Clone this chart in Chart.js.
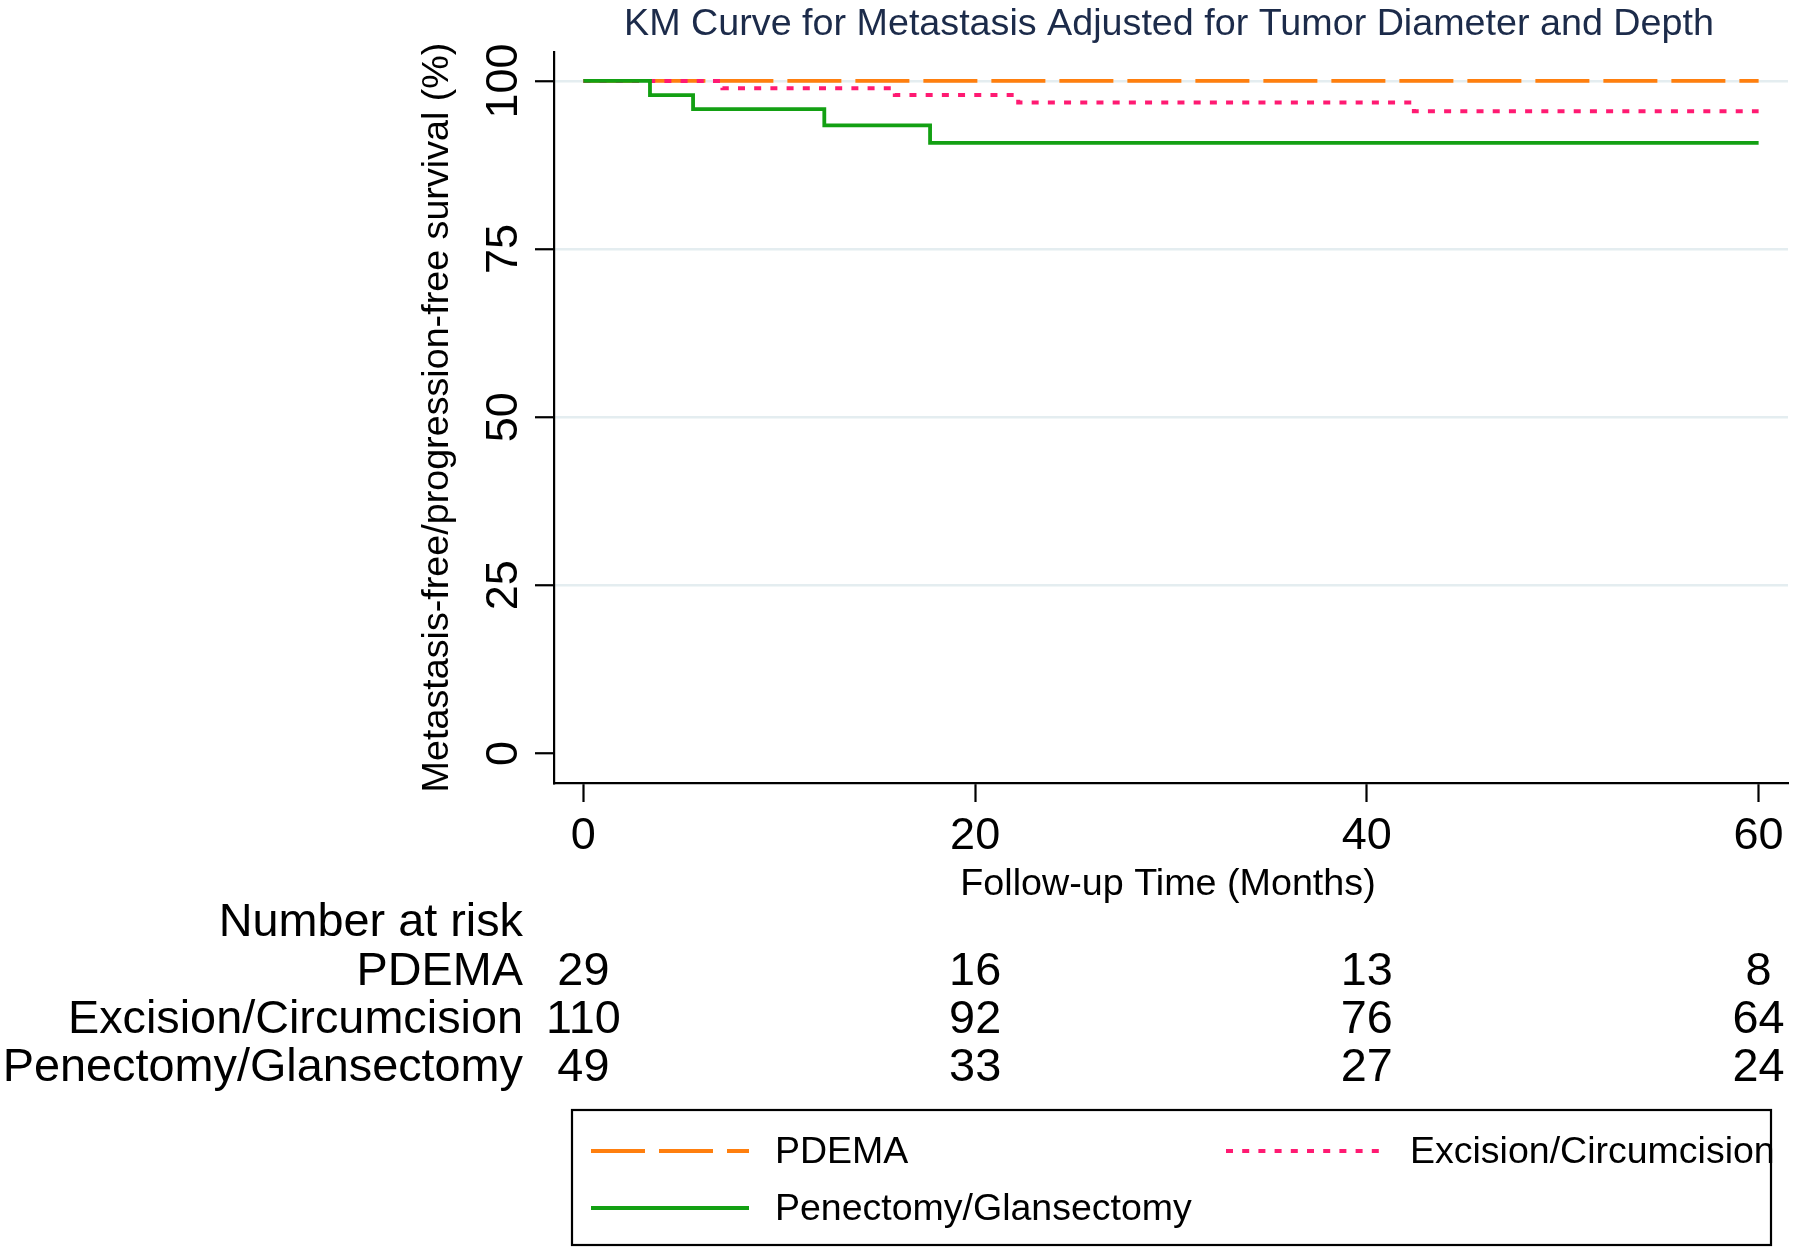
<!DOCTYPE html>
<html>
<head>
<meta charset="utf-8">
<script src="https://cdn.jsdelivr.net/npm/chart.js@4.4.1/dist/chart.umd.min.js"></script>
<style>
html,body{margin:0;padding:0;background:#fff;}
canvas{display:block;}
</style>
</head>
<body>
<canvas id="c" width="1800" height="1255"></canvas>
<script>
// ---- data ----
const seriesNames = ['PDEMA', 'Excision/Circumcision', 'Penectomy/Glansectomy'];
const pdemaTime = [0, 60];
const pdemaSurv = [100, 100];
const excTime = [0, 7.1, 15.9, 22.2, 42.4, 60];
const excSurv = [100, 98.9, 97.9, 96.8, 95.5, 95.5];
const penTime = [0, 3.4, 5.6, 12.3, 17.7, 60];
const penSurv = [100, 97.9, 95.8, 93.4, 90.8, 90.8];

const xTickValues = [0, 20, 40, 60];
const xTickLabels = ['0', '20', '40', '60'];
const yTickValues = [0, 25, 50, 75, 100];
const yTickLabels = ['0', '25', '50', '75', '100'];

const riskTimes = [0, 20, 40, 60];
const riskPDEMA = [29, 16, 13, 8];
const riskExc = [110, 92, 76, 64];
const riskPen = [49, 33, 27, 24];

const titleText = 'KM Curve for Metastasis Adjusted for Tumor Diameter and Depth';
const xTitle = 'Follow-up Time (Months)';
const yTitle = 'Metastasis-free/progression-free survival (%)';
const riskHeader = 'Number at risk';

// ---- styles ----
const COL_ORANGE = '#ff7f0e';
const COL_PINK = '#ff1a72';
const COL_GREEN = '#13a013';
const DASH_ORANGE = [54, 14];
const DASH_PINK = [7, 9.2];
const FONT = '"Liberation Sans", Arial, Helvetica, sans-serif';

function pts(t, s) { return t.map((v, i) => ({x: v, y: s[i]})); }

const overlay = {
  id: 'overlay',
  afterDraw(chart) {
    const ctx = chart.ctx;
    const xs = chart.scales.x, ys = chart.scales.y;
    const ca = chart.chartArea;
    ctx.save();
    // title
    ctx.fillStyle = '#1c2b4a';
    ctx.font = '37.7px ' + FONT;
    ctx.textAlign = 'center';
    ctx.textBaseline = 'alphabetic';
    ctx.fillText(titleText, (ca.left + ca.right) / 2 - 2, 35);

    ctx.fillStyle = '#000';
    // y tick labels (rotated)
    ctx.font = '45px ' + FONT;
    yTickValues.forEach((v, i) => {
      const y = ys.getPixelForValue(v);
      ctx.save();
      ctx.translate(517, y);
      ctx.rotate(-Math.PI / 2);
      ctx.textAlign = 'center';
      ctx.fillText(yTickLabels[i], 0, 0);
      ctx.restore();
    });
    // x tick labels
    ctx.textAlign = 'center';
    xTickValues.forEach((v, i) => {
      ctx.fillText(xTickLabels[i], xs.getPixelForValue(v), 849);
    });
    // axis titles
    ctx.font = '37.7px ' + FONT;
    ctx.fillText(xTitle, (ca.left + ca.right) / 2 - 3, 895);
    ctx.save();
    ctx.translate(448, (ca.top + ca.bottom) / 2);
    ctx.rotate(-Math.PI / 2);
    ctx.textAlign = 'center';
    ctx.fillText(yTitle, 0, 0);
    ctx.restore();

    // number at risk table
    ctx.font = '46.8px ' + FONT;
    ctx.textAlign = 'right';
    const rows = [[seriesNames[0], riskPDEMA], [seriesNames[1], riskExc], [seriesNames[2], riskPen]];
    ctx.fillText(riskHeader, 523, 936);
    rows.forEach((r, k) => {
      const by = 985 + k * 48;
      ctx.textAlign = 'right';
      ctx.fillText(r[0], 523, by);
      ctx.textAlign = 'center';
      r[1].forEach((n, i) => ctx.fillText(String(n), xs.getPixelForValue(riskTimes[i]), by));
    });

    // legend box
    ctx.lineWidth = 2.2;
    ctx.strokeStyle = '#000';
    ctx.strokeRect(572, 1110, 1199, 135);
    const items = [
      {x: 591, y: 1151, tx: 775, col: COL_ORANGE, dash: DASH_ORANGE, w: 3.8, name: seriesNames[0]},
      {x: 1226, y: 1151, tx: 1410, col: COL_PINK, dash: DASH_PINK, w: 4, name: seriesNames[1]},
      {x: 591, y: 1208, tx: 775, col: COL_GREEN, dash: [], w: 3.8, name: seriesNames[2]}
    ];
    ctx.font = '37.5px ' + FONT;
    ctx.textAlign = 'left';
    ctx.textBaseline = 'middle';
    items.forEach(it => {
      ctx.save();
      ctx.strokeStyle = it.col;
      ctx.lineWidth = it.w;
      ctx.setLineDash(it.dash);
      ctx.beginPath();
      ctx.moveTo(it.x, it.y);
      ctx.lineTo(it.x + 158, it.y);
      ctx.stroke();
      ctx.restore();
      ctx.fillStyle = '#000';
      ctx.fillText(it.name, it.tx, it.y + 2);
    });
    ctx.restore();
  }
};

new Chart(document.getElementById('c'), {
  type: 'line',
  data: {
    datasets: [
      {label: seriesNames[0], data: pts(pdemaTime, pdemaSurv), borderColor: COL_ORANGE, borderDash: DASH_ORANGE, borderWidth: 3.8, order: 3},
      {label: seriesNames[1], data: pts(excTime, excSurv), borderColor: COL_PINK, borderDash: DASH_PINK, borderWidth: 4, order: 2},
      {label: seriesNames[2], data: pts(penTime, penSurv), borderColor: COL_GREEN, borderDash: [], borderWidth: 3.8, order: 1}
    ].map(d => Object.assign({stepped: true, pointRadius: 0, fill: false, borderCapStyle: 'butt', tension: 0}, d))
  },
  options: {
    responsive: false,
    animation: false,
    devicePixelRatio: 1,
    layout: {padding: {top: 52, right: 12, left: 0, bottom: 0}},
    plugins: {legend: {display: false}, tooltip: {enabled: false}, title: {display: false}},
    scales: {
      x: {
        type: 'linear', min: -1.5, max: 61.5,
        ticks: {stepSize: 20, includeBounds: false, display: false},
        grid: {drawOnChartArea: false, drawTicks: true, tickLength: 19, tickColor: '#000', tickWidth: 2.2},
        border: {display: true, color: '#000', width: 2.2},
        afterFit: s => { s.height = 472; }
      },
      y: {
        type: 'linear', min: -4.4, max: 104.3,
        ticks: {stepSize: 25, includeBounds: false, display: false},
        grid: {
          color: c => (c.tick && c.tick.value === 0) ? 'rgba(0,0,0,0)' : '#e4edf0',
          lineWidth: 2.5, drawTicks: true, tickLength: 19, tickColor: '#000', tickWidth: 2.2
        },
        border: {display: true, color: '#000', width: 2.2},
        afterFit: s => { s.width = 554; }
      }
    }
  },
  plugins: [overlay]
});
</script>
</body>
</html>
